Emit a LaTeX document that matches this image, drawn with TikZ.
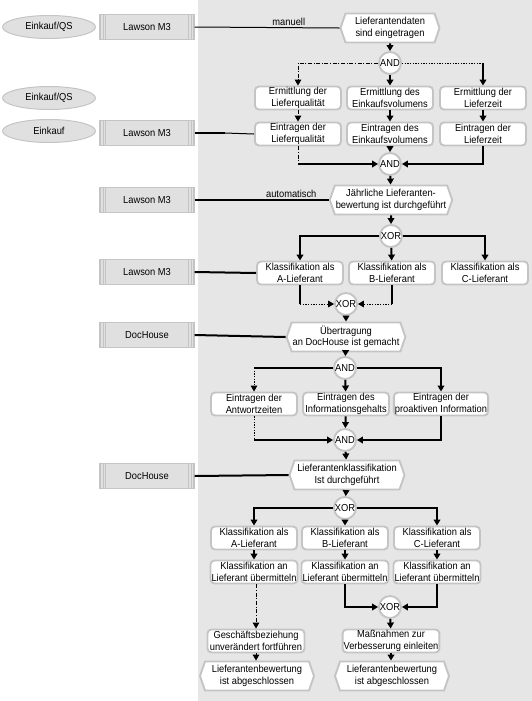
\documentclass[tikz,border=0pt]{standalone}
\usepackage{fontspec}
\setmainfont{Liberation Sans}[FakeStretch=0.92]
\usetikzlibrary{arrows.meta,shapes.geometric,shapes.symbols}
\definecolor{laneGray}{RGB}{230,230,230}
\definecolor{frameGray}{RGB}{196,196,196}
\definecolor{fillGray}{RGB}{224,224,224}

\begin{document}
\begin{tikzpicture}[x=0.75pt,y=0.75pt,yscale=-1,xscale=1,
  every node/.style={font=\fontsize{7.6}{8.7}\selectfont, align=center, inner sep=0.75pt},
  func/.style={rectangle, rounded corners=3pt, draw=frameGray, line width=1.4pt, fill=white, minimum width=64.5pt, minimum height=17.25pt},
  evt/.style={signal, signal to=west and east, signal pointer angle=142, draw=frameGray, line width=1.4pt, fill=white, minimum height=21.75pt},
  conn/.style={circle, draw=frameGray, line width=1.4pt, fill=white, minimum size=16.5pt, inner sep=0pt},
  role/.style={ellipse, draw=frameGray, line width=0.75pt, fill=fillGray, minimum width=69.75pt, minimum height=17.25pt},
  sysbox/.style={rectangle, draw=frameGray, line width=0.9pt, fill=fillGray, minimum width=70.5pt, minimum height=18.75pt,
    path picture={
      \foreach \d in {2.2pt,4.2pt}{
        \draw[frameGray,line width=0.6pt] ([xshift=\d]path picture bounding box.north west) -- ([xshift=\d]path picture bounding box.south west);
        \draw[frameGray,line width=0.6pt] ([xshift=-\d]path picture bounding box.north east) -- ([xshift=-\d]path picture bounding box.south east);
      }}},
  link/.style={line width=1.5pt},
  thinlink/.style={line width=0.75pt},
  flow/.style={line width=1.5pt, -{Triangle[length=4.5pt,width=5pt]}},
  opt/.style={line width=0.75pt, dash pattern=on 3pt off 1.2pt on 0.8pt off 1.2pt},
  optflow/.style={opt, -{Triangle[length=4.5pt,width=5pt]}},
  dotline/.style={line width=0.75pt, dash pattern=on 1pt off 1pt}
]
\useasboundingbox (0,0) rectangle (532,701);
%Shape: Rectangle [id:lane]
\fill[laneGray] (198,0) rectangle (532,701);

% Organisational units
\node[role] (ou1) at (49,27) {Einkauf/QS};
\node[role] (ou2) at (49,98) {Einkauf/QS};
\node[role] (ou3) at (49,131) {Einkauf};

% Application systems
\node[sysbox] (sys1) at (147,27) {Lawson M3};
\node[sysbox] (sys2) at (147,133) {Lawson M3};
\node[sysbox] (sys3) at (147,200) {Lawson M3};
\node[sysbox] (sys4) at (147,272) {Lawson M3};
\node[sysbox] (sys5) at (147,335) {DocHouse};
\node[sysbox] (sys6) at (147,476) {DocHouse};

% Events and functions
\node[evt, minimum width=74.25pt] (ev1) at (390,28) {Lieferantendaten\\sind eingetragen};
\node[conn] (and1) at (390,63) {AND};
\node[func] (erm1) at (298,98) {Ermittlung der\\Lieferqualität};
\node[func] (erm2) at (390,98) {Ermittlung des\\Einkaufsvolumens};
\node[func] (erm3) at (483,98) {Ermittlung der\\Lieferzeit};
\node[func] (ein1) at (298,134) {Eintragen der\\Lieferqualität};
\node[func] (ein2) at (390,134) {Eintragen des\\Einkaufsvolumens};
\node[func] (ein3) at (483,134) {Eintragen der\\Lieferzeit};
\node[conn] (and2) at (390,164) {AND};
\node[evt, minimum width=91.5pt] (ev2) at (391,200) {Jährliche Lieferanten-\\bewertung ist durchgeführt};
\node[conn] (xor1) at (391,236) {XOR};
\node[func] (kla1) at (300,273) {Klassifikation als\\A-Lieferant};
\node[func] (kla2) at (392,273) {Klassifikation als\\B-Lieferant};
\node[func] (kla3) at (485,273) {Klassifikation als\\C-Lieferant};
\node[conn] (xor2) at (346,304) {XOR};
\node[evt, minimum width=86.25pt] (ev3) at (346,337) {Übertragung\\an DocHouse ist gemacht};
\node[conn] (and3) at (345,368) {AND};
\node[func] (doc1) at (254,404) {Eintragen der\\Antwortzeiten};
\node[func] (doc2) at (346,404) {Eintragen des\\Informationsgehalts};
\node[func, minimum width=69pt] (doc3) at (441,404) {Eintragen der\\proaktiven Information};
\node[conn] (and4) at (345,440) {AND};
\node[evt, minimum width=86.25pt] (ev4) at (347,475) {Lieferantenklassifikation\\Ist durchgeführt};
\node[conn] (xor3) at (345,508) {XOR};
\node[func] (ca) at (254,538) {Klassifikation als\\A-Lieferant};
\node[func] (cb) at (345,538) {Klassifikation als\\B-Lieferant};
\node[func] (cc) at (437,538) {Klassifikation als\\C-Lieferant};
\node[func] (ua) at (254,572) {Klassifikation an\\Lieferant übermitteln};
\node[func] (ub) at (345,572) {Klassifikation an\\Lieferant übermitteln};
\node[func] (uc) at (437,572) {Klassifikation an\\Lieferant übermitteln};
\node[conn] (xor4) at (390,607) {XOR};
\node[func, minimum width=72.75pt] (keep) at (256,641) {Geschäftsbeziehung\\unverändert fortführen};
\node[func, minimum width=72pt] (improve) at (391,641) {Maßnahmen zur\\Verbesserung einleiten};
\node[evt, minimum width=85.5pt] (endA) at (257,676) {Lieferantenbewertung\\ist abgeschlossen};
\node[evt, minimum width=85.5pt] (endB) at (392,676) {Lieferantenbewertung\\ist abgeschlossen};

% Links to the systems
\draw[thinlink] (sys1.east) -- node[pos=0.65, above, inner sep=1pt] {manuell} (ev1.west);
\draw[link] (sys2.east) -- ++(30,0) coordinate (sys2mid);
\draw[thinlink] (sys2mid) -- (ein1.west);
\draw[link] (sys3.east) -- node[pos=0.72, above, inner sep=1pt] {automatisch} (ev2.west);
\draw[link] (sys4.east) -- (kla1.west);
\draw[link] (sys5.east) -- (ev3.west);
\draw[link] (sys6.east) -- (ev4.west);

% Control flow
\draw[flow] (ev1) -- (and1);
\draw[optflow] (and1.west) -| (erm1.north);
\draw[flow] (and1) -- (erm2);
\draw[dotline] (and1.east) -- (erm3.north |- and1);
\draw[flow] (erm3.north |- and1) -- (erm3.north);
\draw[optflow] (erm1) -- (ein1);
\draw[flow] (erm2) -- (ein2);
\draw[flow] (erm3) -- (ein3);
\draw[opt] (ein1.south) -- (ein1.south |- and2);
\draw[flow] (ein1.south |- and2) -- (and2.west);
\draw[flow] (ein2) -- (and2);
\draw[flow] (ein3.south) |- (and2.east);
\draw[flow] (and2) -- (ev2);
\draw[flow] (ev2) -- (xor1);
\draw[flow] (xor1.west) -| (kla1.north);
\draw[flow] (xor1) -- (kla2);
\draw[flow] (xor1.east) -| (kla3.north);
\draw[link] (kla1.south) -- (kla1.south |- xor2);
\draw[dotline, -{Triangle[length=4.5pt,width=5pt]}] (kla1.south |- xor2) -- (xor2.west);
\draw[link] (kla2.south) -- (kla2.south |- xor2);
\draw[dotline, -{Triangle[length=4.5pt,width=5pt]}] (kla2.south |- xor2) -- (xor2.east);
\draw[flow] (xor2) -- (ev3);
\draw[flow] (ev3) -- (and3);
\draw[link] (and3.west) -- (doc1.north |- and3);
\draw[dotline, -{Triangle[length=4.5pt,width=5pt]}] (doc1.north |- and3) -- (doc1.north);
\draw[flow] (and3) -- (doc2);
\draw[flow] (and3.east) -| (doc3.north);
\draw[dotline] (doc1.south) -- (doc1.south |- and4);
\draw[flow] (doc1.south |- and4) -- (and4.west);
\draw[flow] (doc2) -- (and4);
\draw[flow] (doc3.south) |- (and4.east);
\draw[flow] (and4) -- (ev4);
\draw[flow] (ev4) -- (xor3);
\draw[flow] (xor3.west) -| (ca.north);
\draw[flow] (xor3) -- (cb);
\draw[flow] (xor3.east) -| (cc.north);
\draw[flow] (ca) -- (ua);
\draw[flow] (cb) -- (ub);
\draw[flow] (cc) -- (uc);
\draw[optflow] (ua.south -| keep.north) -- (keep.north);
\draw[flow] (ub.south) |- (xor4.west);
\draw[flow] (uc.south) |- (xor4.east);
\draw[flow] (xor4) -- (improve);
\draw[optflow] (keep) -- (keep |- endA.north);
\draw[flow] (improve) -- (improve |- endB.north);

\end{tikzpicture}
\end{document}
